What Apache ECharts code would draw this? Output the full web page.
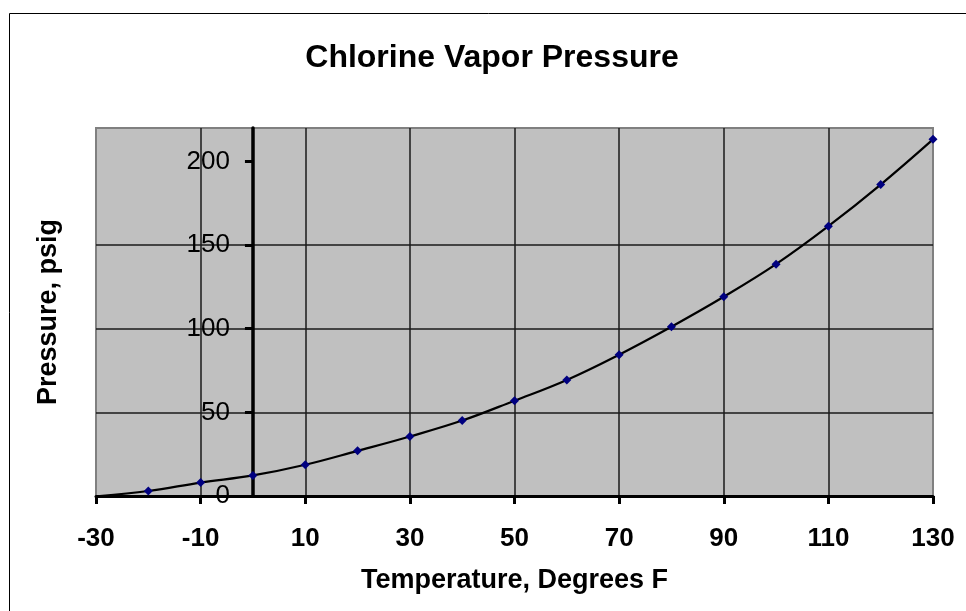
<!DOCTYPE html>
<html>
<head>
<meta charset="utf-8">
<script src="https://cdn.jsdelivr.net/npm/echarts@6/dist/echarts.min.js"></script>
<style>
  html, body { margin: 0; padding: 0; background: #fff; }
  #chart { width: 966px; height: 611px; }
</style>
</head>
<body>
<div id="chart"></div>
<script>
// temperature (deg F) and pressure (psig)
const temps = [-29.3, -20, -10, 0, 10, 20, 30, 40, 50, 60, 70, 80, 90, 100, 110, 120, 130]
const pressures = [0, 3, 8, 12.3, 18.7, 27, 35.6, 45.1, 57, 69.4, 84.5, 101.2, 119.1, 138.6, 161.3, 186.2, 213.2]

const xTickLabels = [-30, -10, 10, 30, 50, 70, 90, 110, 130]
const yTickLabels = [0, 50, 100, 150, 200]

const font = '"Liberation Sans", Arial, sans-serif'

const seriesData = temps.map((t, i) => {
  // the first point (boiling point) has no marker on the original
  if (i === 0) return { value: [t, pressures[i]], symbol: 'none' }
  return [t, pressures[i]]
})

const chart = echarts.init(document.getElementById('chart'))
chart.setOption({
  animation: false,
  backgroundColor: '#fff',
  title: {
    text: 'Chlorine Vapor Pressure',
    left: 487,
    top: 37,
    textAlign: 'center',
    textStyle: { fontFamily: font, fontSize: 32, fontWeight: 'bold', color: '#000' }
  },
  graphic: [{
    type: 'rect',
    silent: true,
    z: 100,
    shape: { x: 9.5, y: 13.5, width: 1000, height: 700 },
    style: { fill: 'none', stroke: '#000', lineWidth: 1 }
  }],
  grid: {
    left: 96, top: 128, width: 837, height: 368,
    outerBoundsMode: 'none',
    show: true,
    backgroundColor: '#C0C0C0',
    borderColor: '#808080',
    borderWidth: 2
  },
  xAxis: {
    type: 'value',
    min: -30, max: 130, interval: 10,
    name: 'Temperature, Degrees F',
    nameLocation: 'middle',
    nameGap: 71,
    nameTextStyle: { fontFamily: font, fontSize: 27, fontWeight: 'bold', color: '#000' },
    axisLine: { onZero: true, lineStyle: { color: '#000', width: 3 } },
    axisTick: { show: true, customValues: xTickLabels, length: 8, lineStyle: { color: '#000', width: 3 } },
    axisLabel: {
      customValues: xTickLabels,
      margin: 30,
      fontFamily: font, fontSize: 26, fontWeight: 'bold', color: '#000'
    },
    splitLine: { show: true, showMinLine: false, showMaxLine: false, lineStyle: { color: '#1a1a1a', width: 1.5 } }
  },
  yAxis: {
    type: 'value',
    min: 0, max: 220, interval: 50,
    name: 'Pressure, psig',
    nameLocation: 'middle',
    nameGap: 34,
    nameTextStyle: { fontFamily: font, fontSize: 27, fontWeight: 'bold', color: '#000' },
    axisLine: { show: true, onZero: true, lineStyle: { color: '#000', width: 3.5 } },
    axisTick: { show: true, customValues: yTickLabels, length: 8, lineStyle: { color: '#000', width: 3 } },
    axisLabel: {
      customValues: yTickLabels,
      // labels sit just left of the x = 0 axis line, not at the grid edge
      margin: -134,
      fontFamily: font, fontSize: 26, color: '#000'
    },
    splitLine: { show: true, showMinLine: false, showMaxLine: false, lineStyle: { color: '#1a1a1a', width: 1.5 } }
  },
  series: [{
    type: 'line',
    data: seriesData,
    smooth: 0.4,
    symbol: 'diamond',
    symbolSize: 9,
    itemStyle: { color: '#000080' },
    lineStyle: { color: '#000', width: 2.2 }
  }]
})
</script>
</body>
</html>
